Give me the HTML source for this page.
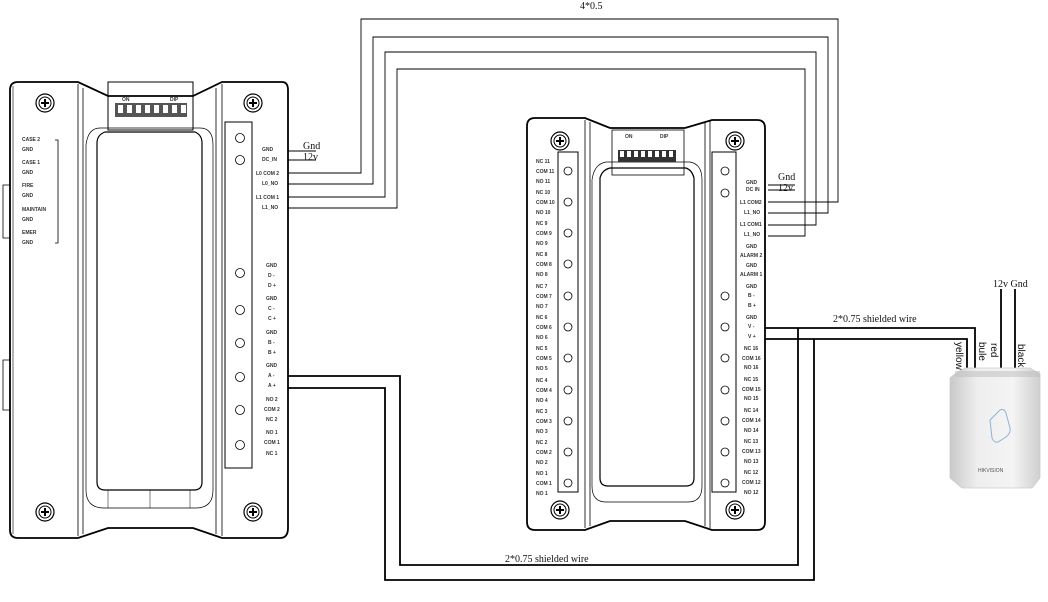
<!DOCTYPE html>
<html><head><meta charset="utf-8"><style>
html,body{margin:0;padding:0;background:#fff;}
svg{display:block;}
text{font-family:"Liberation Sans",sans-serif;}
.s{font-size:5px;font-weight:bold;fill:#333;}
.l{font-family:"Liberation Serif",serif;font-size:10px;fill:#111;}
</style></head><body>
<svg width="1048" height="602" viewBox="0 0 1048 602" xmlns="http://www.w3.org/2000/svg">
<defs>
<g id="screw"><circle r="9" fill="#fff" stroke="#000" stroke-width="1.2"/><circle r="6" fill="none" stroke="#000" stroke-width="1"/><path d="M-4 0H4M0-4V4" stroke="#000" stroke-width="2"/></g>
<linearGradient id="rg" x1="0" x2="1"><stop offset="0" stop-color="#c9c9c9"/><stop offset="0.3" stop-color="#eeeeee"/><stop offset="0.7" stop-color="#f4f4f4"/><stop offset="1" stop-color="#cfcfcf"/></linearGradient>
</defs>

<!-- LEFT DEVICE -->
<g fill="none" stroke="#000" stroke-width="1">
<path d="M18 82 H78 L108 96 H193 L222 82 H282 Q288 82 288 90 V528 Q288 538 280 538 H222 L193 528 H108 L78 538 H18 Q10 538 10 530 V90 Q10 82 18 82Z" stroke-width="1.8"/>
<path d="M13 86 V534" stroke-width="0.6"/>
<path d="M78 84 V536 M83 88 V534 M216 88 V534 M222 84 V536" stroke-width="0.8"/>
<rect x="108" y="82" width="85" height="48" stroke-width="1"/>
<path d="M97 143 Q97 135 105 132 H195 Q202 135 202 143 V482 Q202 490 194 490 H105 Q97 490 97 482Z" stroke-width="1.2"/>
<path d="M86 145 Q88 128 100 128 H200 Q213 128 213 145 V490 Q213 508 196 508 H104 Q86 508 86 490Z" stroke-width="0.7"/>
<path d="M108 490 V508 M150 490 V508 M190 490 V508" stroke-width="0.5"/>
<rect x="225" y="122" width="27" height="346"/>
<path d="M10 185 H3 V238 H10" stroke-width="0.8"/>
<path d="M10 360 H3 V410 H10" stroke-width="0.8"/>
<path d="M55 140 H58 V243 H55" stroke-width="0.8"/>
</g>
<g fill="#555"><rect x="115" y="103" width="72" height="14"/></g>
<g fill="#fff"><rect x="118" y="105" width="5" height="8"/><rect x="127" y="105" width="5" height="8"/><rect x="136" y="105" width="5" height="8"/><rect x="145" y="105" width="5" height="8"/><rect x="154" y="105" width="5" height="8"/><rect x="163" y="105" width="5" height="8"/><rect x="172" y="105" width="5" height="8"/><rect x="181" y="105" width="5" height="8"/></g>
<text class="s" x="122" y="101">ON</text><text class="s" x="170" y="101">DIP</text>
<use href="#screw" x="45" y="103"/><use href="#screw" x="253" y="103"/>
<use href="#screw" x="45" y="512"/><use href="#screw" x="253" y="512"/>
<g class="s">
<text x="22" y="141">CASE 2</text><text x="22" y="151">GND</text><text x="22" y="164">CASE 1</text><text x="22" y="174">GND</text><text x="22" y="187">FIRE</text><text x="22" y="197">GND</text><text x="22" y="211">MAINTAIN</text><text x="22" y="221">GND</text><text x="22" y="234">EMER</text><text x="22" y="244">GND</text>
<text x="262" y="151">GND</text><text x="262" y="161">DC_IN</text><text x="256" y="175">L0 COM 2</text><text x="262" y="185">L0_NO</text><text x="256" y="199">L1 COM 1</text><text x="262" y="209">L1_NO</text>
<text x="266" y="267">GND</text><text x="268" y="277">D -</text><text x="268" y="287">D +</text><text x="266" y="300">GND</text><text x="268" y="310">C -</text><text x="268" y="320">C +</text><text x="266" y="334">GND</text><text x="268" y="344">B -</text><text x="268" y="354">B +</text><text x="266" y="367">GND</text><text x="268" y="377">A -</text><text x="268" y="387">A +</text>
<text x="266" y="401">NO 2</text><text x="264" y="411">COM 2</text><text x="266" y="421">NC 2</text><text x="266" y="434">NO 1</text><text x="264" y="444">COM 1</text><text x="266" y="455">NC 1</text>
</g>
<g fill="#fff" stroke="#000" stroke-width="0.8">
<circle cx="240" cy="138" r="4.5"/><circle cx="240" cy="160" r="4.5"/><circle cx="240" cy="273" r="4.5"/><circle cx="240" cy="310" r="4.5"/><circle cx="240" cy="343" r="4.5"/><circle cx="240" cy="377" r="4.5"/><circle cx="240" cy="410" r="4.5"/><circle cx="240" cy="445" r="4.5"/>
</g>

<!-- RIGHT DEVICE -->
<g fill="none" stroke="#000" stroke-width="1">
<path d="M535 118 H585 L610 128 H685 L712 120 H757 Q765 120 765 128 V522 Q765 530 757 530 H712 L685 521 H610 L585 530 H535 Q527 530 527 522 V126 Q527 118 535 118Z" stroke-width="1.8"/>
<path d="M585 120 V528 M590 122 V526 M705 122 V526 M710 120 V528" stroke-width="0.8"/>
<rect x="612" y="130" width="72" height="45" stroke-width="0.8"/>
<path d="M600 178 Q602 170 610 168 H686 Q692 170 694 178 V478 Q694 486 686 486 H608 Q600 486 600 478Z" stroke-width="1.2"/>
<path d="M592 180 Q594 164 606 162 H690 Q702 164 702 180 V486 Q702 502 688 502 H606 Q592 502 592 486Z" stroke-width="0.7"/>
<rect x="558" y="152" width="20" height="340"/>
<rect x="712" y="152" width="24" height="340"/>
</g>
<g fill="#333"><rect x="618" y="150" width="58" height="12"/></g>
<g fill="#fff"><rect x="620" y="151" width="4" height="6"/><rect x="627" y="151" width="4" height="6"/><rect x="634" y="151" width="4" height="6"/><rect x="641" y="151" width="4" height="6"/><rect x="648" y="151" width="4" height="6"/><rect x="655" y="151" width="4" height="6"/><rect x="662" y="151" width="4" height="6"/><rect x="669" y="151" width="4" height="6"/></g>
<text class="s" x="625" y="138">ON</text><text class="s" x="660" y="138">DIP</text>
<use href="#screw" x="560" y="141"/><use href="#screw" x="735" y="141"/>
<use href="#screw" x="560" y="510"/><use href="#screw" x="735" y="510"/>
<g fill="#fff" stroke="#000" stroke-width="0.8">
<circle cx="568" cy="171" r="4"/><circle cx="568" cy="202" r="4"/><circle cx="568" cy="233" r="4"/><circle cx="568" cy="264" r="4"/><circle cx="568" cy="296" r="4"/><circle cx="568" cy="327" r="4"/><circle cx="568" cy="358" r="4"/><circle cx="568" cy="390" r="4"/><circle cx="568" cy="421" r="4"/><circle cx="568" cy="452" r="4"/><circle cx="568" cy="483" r="4"/>
<circle cx="725" cy="171" r="4"/><circle cx="725" cy="193" r="4"/><circle cx="725" cy="296" r="4"/><circle cx="725" cy="327" r="4"/><circle cx="725" cy="358" r="4"/><circle cx="725" cy="390" r="4"/><circle cx="725" cy="421" r="4"/><circle cx="725" cy="452" r="4"/><circle cx="725" cy="483" r="4"/>
</g>
<g class="s">
<text x="536" y="163">NC 11</text><text x="536" y="173">COM 11</text><text x="536" y="183">NO 11</text>
<text x="536" y="194">NC 10</text><text x="536" y="204">COM 10</text><text x="536" y="214">NO 10</text>
<text x="536" y="225">NC 9</text><text x="536" y="235">COM 9</text><text x="536" y="245">NO 9</text>
<text x="536" y="256">NC 8</text><text x="536" y="266">COM 8</text><text x="536" y="276">NO 8</text>
<text x="536" y="288">NC 7</text><text x="536" y="298">COM 7</text><text x="536" y="308">NO 7</text>
<text x="536" y="319">NC 6</text><text x="536" y="329">COM 6</text><text x="536" y="339">NO 6</text>
<text x="536" y="350">NC 5</text><text x="536" y="360">COM 5</text><text x="536" y="370">NO 5</text>
<text x="536" y="382">NC 4</text><text x="536" y="392">COM 4</text><text x="536" y="402">NO 4</text>
<text x="536" y="413">NC 3</text><text x="536" y="423">COM 3</text><text x="536" y="433">NO 3</text>
<text x="536" y="444">NC 2</text><text x="536" y="454">COM 2</text><text x="536" y="464">NO 2</text>
<text x="536" y="475">NO 1</text><text x="536" y="485">COM 1</text><text x="536" y="495">NO 1</text>
<text x="746" y="184">GND</text><text x="746" y="191">DC IN</text><text x="740" y="204">L1 COM2</text><text x="744" y="214">L1_NO</text><text x="740" y="226">L1 COM1</text><text x="744" y="236">L1_NO</text>
<text x="746" y="248">GND</text><text x="740" y="257">ALARM 2</text><text x="746" y="267">GND</text><text x="740" y="276">ALARM 1</text>
<text x="746" y="288">GND</text><text x="748" y="297">B -</text><text x="748" y="307">B +</text><text x="746" y="319">GND</text><text x="748" y="328">V -</text><text x="748" y="338">V +</text>
<text x="744" y="350">NC 16</text><text x="742" y="360">COM 16</text><text x="744" y="369">NO 16</text>
<text x="744" y="381">NC 15</text><text x="742" y="391">COM 15</text><text x="744" y="400">NO 15</text>
<text x="744" y="412">NC 14</text><text x="742" y="422">COM 14</text><text x="744" y="432">NO 14</text>
<text x="744" y="443">NC 13</text><text x="742" y="453">COM 13</text><text x="744" y="463">NO 13</text>
<text x="744" y="474">NC 12</text><text x="742" y="484">COM 12</text><text x="744" y="494">NO 12</text>
</g>

<!-- 4*0.5 wires -->
<g fill="none" stroke="#000" stroke-width="0.9">
<path d="M288 173 H361 V19 H838 V202 H768"/>
<path d="M288 184 H373 V37 H828 V213 H768"/>
<path d="M288 197 H385 V52 H816 V225 H768"/>
<path d="M288 208 H397 V69 H805 V236 H768"/>
<path d="M288 151 H316 M288 160 H316"/>
<path d="M768 185 H795 M768 190 H795"/>
</g>
<text class="l" x="580" y="9">4*0.5</text>
<text class="l" x="303" y="149">Gnd</text><text class="l" x="303" y="160">12v</text>
<text class="l" x="778" y="180">Gnd</text><text class="l" x="778" y="191">12v</text>

<!-- shielded wires -->
<g fill="none" stroke="#000" stroke-width="1.8">
<path d="M288 376 H400 V565 H798 V328"/>
<path d="M288 388 H385 V580 H814 V339"/>
<path d="M765 328 H975 V370"/>
<path d="M765 339 H967 V370"/>
<path d="M1001 289 V370"/>
<path d="M1015 289 V370"/>
</g>
<text class="l" x="505" y="562">2*0.75 shielded wire</text>
<text class="l" x="833" y="322">2*0.75 shielded wire</text>
<text class="l" x="993" y="287" font-size="9">12v Gnd</text>
<g class="l" font-size="9">
<text transform="translate(956,342) rotate(90)">yellow</text>
<text transform="translate(979,342) rotate(90)">bule</text>
<text transform="translate(991,343) rotate(90)">red</text>
<text transform="translate(1018,344) rotate(90)">black</text>
</g>

<!-- reader -->
<path d="M955 374 L965 368 H1030 L1040 374 V478 L1032 488 H962 L950 478 V378Z" fill="url(#rg)" stroke="#ccc" stroke-width="0.8"/>
<path d="M965 368 V488 M1030 368 V488" stroke="#dcdcdc" stroke-width="0.8"/>
<rect x="955" y="371" width="85" height="6" fill="#bbb" opacity="0.5"/>
<path d="M990 420 L1000 410 Q1004 408 1006 413 L1010 428 Q1011 433 1006 437 L998 442 Q994 443 992 438Z" fill="none" stroke="#8fb2d6" stroke-width="1"/>
<text x="978" y="472" font-size="5" fill="#555" font-family="Liberation Serif,serif">HIKVISION</text>
</svg>
</body></html>
